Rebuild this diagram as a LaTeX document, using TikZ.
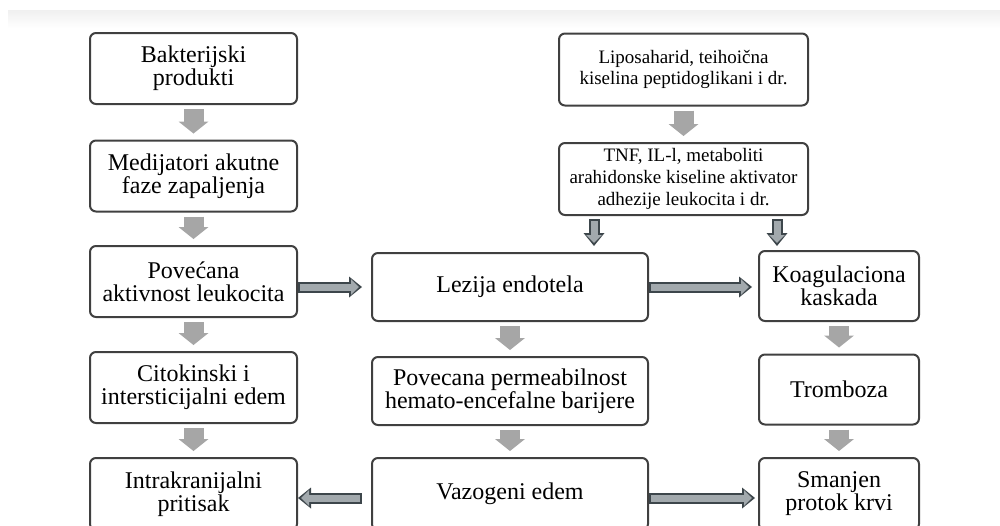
\documentclass[tikz,border=0pt]{standalone}
\usepackage{fontspec}
\setmainfont{Liberation Serif}
\usetikzlibrary{arrows.meta}

\definecolor{boxline}{HTML}{404040}
\definecolor{flowgray}{HTML}{A6A6A6}
\definecolor{pipefill}{HTML}{A2A9AD}
\definecolor{pipeline}{HTML}{3D464B}

\tikzset{
  box/.style={draw=boxline, line width=1pt, rounded corners=3pt, fill=white,
    align=center, inner sep=0pt, font=\fontsize{12}{11.5}\selectfont},
  leftbox/.style={box, minimum width=103.5pt, minimum height=35.5pt},
  midbox/.style={box, minimum width=138pt, minimum height=34pt},
  rightbox/.style={box, minimum width=80pt, minimum height=35pt},
  topbox/.style={box, minimum width=124.5pt, minimum height=36pt,
    font=\fontsize{9.5}{10.8}\selectfont},
  flow/.style={draw=flowgray, line width=10pt,
    -{Triangle[width=15pt,length=6pt,line width=0pt]},
    shorten <=2pt, shorten >=3pt},
  pipe/.style 2 args={draw=pipeline, line width=5.5pt,
    -{Triangle[width=10.5pt,length=6.5pt,line width=0pt]},
    shorten <=#1, shorten >=#2,
    postaction={draw=pipefill, line width=3.5pt,
      -{Triangle[width=7.9pt,length=3.9pt,line width=0pt]},
      shorten <=#1+1pt, shorten >=#2+1.6pt}}
}

\begin{document}
\begin{tikzpicture}[x=0.5pt, y=-0.5pt]

\useasboundingbox (0,0) rectangle (1000,525);
\clip (0,0) rectangle (1000,525);
\shade[top color=black!6, bottom color=white] (8,10) rectangle (1000,28);

% nodes
\node[leftbox] (bakt) at (193.5,68.5) {Bakterijski\\produkti};
\node[leftbox] (med) at (193.5,176) {Medijatori akutne\\faze zapaljenja};
\node[leftbox] (leuk) at (193.5,281.5) {Povećana\\aktivnost leukocita};
\node[leftbox] (cito) at (193.5,387.5) {Citokinski i\\intersticijalni edem};
\node[leftbox, minimum height=36pt] (intr) at (193.5,494) {Intrakranijalni\\pritisak};

\node[topbox] (lipo) at (683.5,69.5) {Liposaharid, teihoična\\kiselina peptidoglikani i dr.};
\node[topbox] (tnf) at (683.5,179) {TNF, IL-l, metaboliti\\arahidonske kiseline aktivator\\adhezije leukocita i dr.};

\node[midbox] (lez) at (510,287) {Lezija endotela};
\node[midbox] (perm) at (510,391) {Povecana permeabilnost\\hemato-encefalne barijere};
\node[midbox, minimum height=36pt] (vaz) at (510,494) {Vazogeni edem};

\node[rightbox] (koag) at (839,286) {Koagulaciona\\kaskada};
\node[rightbox] (tromb) at (839,389.5) {Tromboza};
\node[rightbox, minimum height=36pt] (sman) at (839,494) {Smanjen\\protok krvi};

% gray arrows
\draw[flow] (bakt) -- (med);
\draw[flow] (med) -- (leuk);
\draw[flow] (leuk) -- (cito);
\draw[flow] (cito) -- (intr);
\draw[flow] (lipo) -- (tnf);
\draw[flow] (lez) -- (perm);
\draw[flow] (perm) -- (vaz);
\draw[flow] (koag) -- (tromb);
\draw[flow] (tromb) -- (sman);

% outlined arrows
\draw[pipe={1.5pt}{3pt}] ([xshift=18pt]tnf.south west) -- ([xshift=18pt]tnf.south west |- lez.north);
\draw[pipe={1.5pt}{2pt}] ([xshift=-16pt]tnf.south east) -- ([xshift=-16pt]tnf.south east |- koag.north);
\draw[pipe={0pt}{4.5pt}] (leuk.east |- lez.west) -- (lez.west);
\draw[pipe={0pt}{3pt}] (lez.east) -- (koag.west |- lez.east);
\draw[pipe={4.5pt}{0pt}] ([yshift=-2pt]vaz.west) -- ([yshift=-2pt]intr.east);
\draw[pipe={0pt}{1.5pt}] ([yshift=-2pt]vaz.east) -- ([yshift=-2pt]sman.west);

\end{tikzpicture}
\end{document}
